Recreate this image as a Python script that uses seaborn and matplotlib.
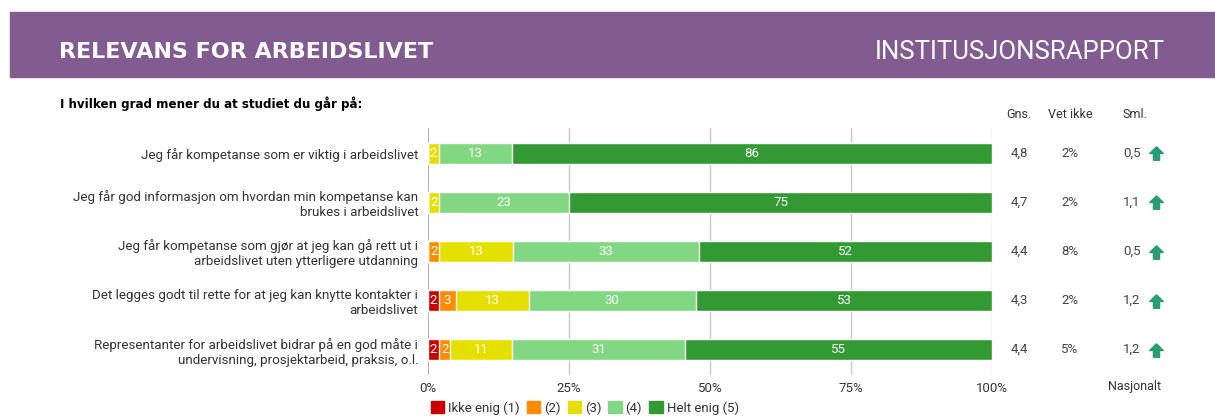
import numpy as np
import matplotlib.pyplot as plt
import seaborn as sns
import pandas as pd
from matplotlib.patches import Rectangle, Patch
import matplotlib.transforms as mtransforms

questions = [
    "Jeg får kompetanse som er viktig i arbeidslivet",
    "Jeg får god informasjon om hvordan min kompetanse kan\nbrukes i arbeidslivet",
    "Jeg får kompetanse som gjør at jeg kan gå rett ut i\narbeidslivet uten ytterligere utdanning",
    "Det legges godt til rette for at jeg kan knytte kontakter i\narbeidslivet",
    "Representanter for arbeidslivet bidrar på en god måte i\nundervisning, prosjektarbeid, praksis, o.l.",
]
categories = ["Ikke enig (1)", "(2)", "(3)", "(4)", "Helt enig (5)"]
ikke_enig = [0, 0, 0, 2, 2]
to = [0, 0, 2, 3, 2]
tre = [2, 2, 13, 13, 11]
fire = [13, 23, 33, 30, 31]
helt_enig = [86, 75, 52, 53, 55]
gns = ["4,8", "4,7", "4,4", "4,3", "4,4"]
vet_ikke = ["2%", "2%", "8%", "2%", "5%"]
sml = ["0,5", "1,1", "0,5", "1,2", "1,2"]

colors = ["#CC0000", "#FF8C00", "#E6E000", "#82D882", "#339933"]

sns.set_theme(style="white")
plt.rcParams['font.family'] = ['Roboto', 'DejaVu Sans']

vals = np.array([ikke_enig, to, tre, fire, helt_enig], dtype=float).T
share = vals / vals.sum(axis=1, keepdims=True) * 100
cum = np.cumsum(share, axis=1)

fig = plt.figure(figsize=(12.15, 4.16), dpi=100)
ax = fig.add_axes([428 / 1215, 1 - 375 / 416, 564 / 1215, 247 / 416])

# banner
fig.patches.append(Rectangle((10 / 1215, 1 - 77 / 416), 1, 65 / 416,
                             transform=fig.transFigure, color="#825C90", zorder=0))
fig.text(59 / 1215, 1 - 52 / 416, "RELEVANS FOR ARBEIDSLIVET", color="white",
         fontsize=16, fontweight="bold", family=["DejaVu Sans"], va="center")
fig.text(1165 / 1215, 1 - 52 / 416, "INSTITUSJONSRAPPORT", color="white",
         fontsize=18.5, fontweight="normal", family=["Roboto", "DejaVu Sans"],
         va="center", ha="right")
fig.text(60 / 1215, 1 - 104 / 416, "I hvilken grad mener du at studiet du går på:",
         color="black", fontsize=8.6, fontweight="bold", family=["DejaVu Sans"],
         va="center")

for x in [25, 50, 75, 100]:
    ax.axvline(x, color="#C8C8C8", lw=1, zorder=0)
ax.axvline(0, color="#A0A0A0", lw=1.2, zorder=0)

df = pd.DataFrame({"q": questions})
for j in range(4, -1, -1):
    df["v"] = cum[:, j]
    sns.barplot(data=df, x="v", y="q", orient="h", color=colors[j],
                saturation=1, width=0.42, ax=ax, zorder=2)

for i in range(len(questions)):
    left = 0
    for j in range(5):
        w = share[i, j]
        if vals[i, j] > 0:
            ax.text(left + w / 2, i, f"{int(vals[i, j])}", color="white",
                    ha="center", va="center", fontsize=9.5, zorder=3)
        left += w

ax.set_xlim(0, 100)
ax.set_ylim(4.52, -0.52)
ax.set_xticks([0, 25, 50, 75, 100])
ax.set_xticklabels(["0%", "25%", "50%", "75%", "100%"], fontsize=9.5, color="#333333")
ax.tick_params(axis="x", length=0, pad=5)
ax.tick_params(axis="y", length=0, pad=7)
ax.set_yticks(range(len(questions)))
ax.set_yticklabels(questions, fontsize=9.6, color="#333333", ha="right",
                   multialignment="right")
ax.set_xlabel("")
ax.set_ylabel("")
for s in ax.spines.values():
    s.set_visible(False)

trans = mtransforms.blended_transform_factory(ax.transAxes, ax.transData)
hdr = dict(transform=trans, ha="center", va="center", fontsize=9, color="#333333")
ax.text(1.048, -0.8, "Gns.", **hdr)
ax.text(1.138, -0.8, "Vet ikke", **hdr)
ax.text(1.2535, -0.8, "Sml.", **hdr)
ax.text(1.2535, 4.75, "Nasjonalt", **hdr)

arrow = [(0, 1), (-1, 0), (-0.45, 0), (-0.45, -1), (0.45, -1), (0.45, 0), (1, 0), (0, 1)]
for i in range(len(questions)):
    ax.text(1.048, i, gns[i], transform=trans, ha="center", va="center",
            fontsize=9.5, color="#444444")
    ax.text(1.138, i, vet_ikke[i], transform=trans, ha="center", va="center",
            fontsize=9.5, color="#444444")
    ax.text(1.248, i, sml[i], transform=trans, ha="center", va="center",
            fontsize=9.5, color="#444444")
    ax.scatter([1.29], [i], transform=trans, marker=arrow, s=95,
               color="#2A9D72", clip_on=False, zorder=4)

handles = [Patch(facecolor=c, edgecolor=c) for c in colors]
fig.legend(handles, categories, loc="center left",
           bbox_to_anchor=(424 / 1215, 1 - 408 / 416), ncol=5, frameon=False,
           fontsize=9.5, handlelength=1.0, handleheight=1.0, handletextpad=0.3,
           columnspacing=0.55, borderpad=0, labelcolor="#333333")

fig.savefig("out.png", dpi=100)
